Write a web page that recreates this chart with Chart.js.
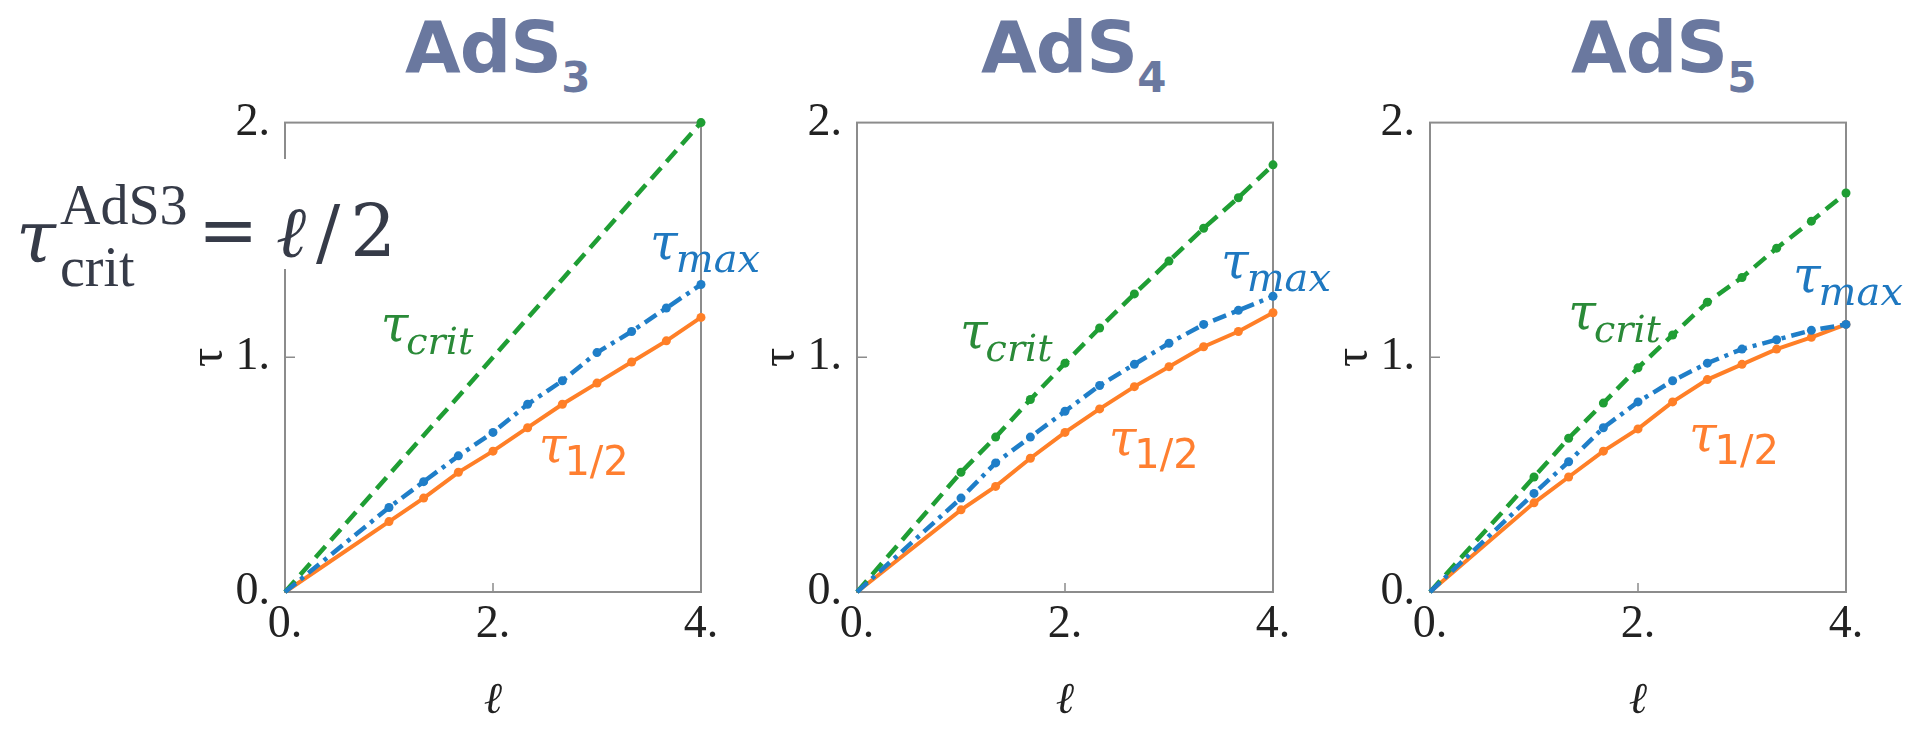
<!DOCTYPE html>
<html>
<head>
<meta charset="utf-8">
<script src="https://cdn.jsdelivr.net/npm/chart.js@4.4.1/dist/chart.umd.min.js"></script>
<style>
  html, body { margin: 0; padding: 0; background: #fff; }
  body { width: 1917px; height: 741px; position: relative; overflow: hidden; }
  canvas { position: absolute; top: 80px; }
  .ttl { position: absolute; top: 11px; font: bold 72px/72px "DejaVu Sans"; color: #6a789f; white-space: nowrap; letter-spacing: -1px; }
  .ttl sub { font-size: 42px; vertical-align: -20px; line-height: 0; }
  #formula { position: absolute; left: 0; top: 159px; width: 395px; height: 110px; background: #fff; z-index: 5; color: #363b48; font-family: "DejaVu Serif"; }
  #formula span { position: absolute; white-space: nowrap; }
  #formula .lib { font-family: "Liberation Serif"; }
</style>
</head>
<body>
<div class="ttl" style="left:405px">AdS<sub>3</sub></div>
<div class="ttl" style="left:981px">AdS<sub>4</sub></div>
<div class="ttl" style="left:1571px">AdS<sub>5</sub></div>

<canvas id="adS3" width="626" height="661" style="left:155px"></canvas>
<canvas id="adS4" width="626" height="661" style="left:727px"></canvas>
<canvas id="adS5" width="626" height="661" style="left:1300px"></canvas>

<div id="formula">
  <span style="left:16px; top:42px; font-size:72px; line-height:72px; font-style:italic">τ</span>
  <span class="lib" style="left:60px; top:18px; font-size:56px; line-height:56px">AdS3</span>
  <span class="lib" style="left:60px; top:80px; font-size:56px; line-height:56px">crit</span>
  <span style="left:198px; top:35px; font-size:72px; line-height:72px">=</span>
  <span style="left:276px; top:37px; font-size:72px; line-height:72px; letter-spacing:10px"><i>ℓ</i>/2</span>
</div>

<script>
// sample points along l (markers sit every 1/3 from l = 1)
var ell = [0, 1, 1.333, 1.667, 2, 2.333, 2.667, 3, 3.333, 3.667, 4];

// AdS3
var critAdS3 = [0, 0.5, 0.667, 0.833, 1, 1.167, 1.333, 1.5, 1.667, 1.833, 2];
var maxAdS3  = [0, 0.36, 0.47, 0.58, 0.68, 0.80, 0.90, 1.02, 1.11, 1.21, 1.31];
var halfAdS3 = [0, 0.30, 0.40, 0.51, 0.60, 0.70, 0.80, 0.89, 0.98, 1.07, 1.17];

// AdS4
var critAdS4 = [0, 0.51, 0.66, 0.82, 0.975, 1.125, 1.27, 1.41, 1.55, 1.68, 1.82];
var maxAdS4  = [0, 0.40, 0.55, 0.66, 0.77, 0.88, 0.97, 1.06, 1.14, 1.20, 1.26];
var halfAdS4 = [0, 0.35, 0.45, 0.57, 0.68, 0.78, 0.875, 0.96, 1.045, 1.11, 1.19];

// AdS5
var critAdS5 = [0, 0.49, 0.655, 0.805, 0.955, 1.095, 1.235, 1.34, 1.465, 1.58, 1.70];
var maxAdS5  = [0, 0.42, 0.555, 0.70, 0.81, 0.90, 0.975, 1.035, 1.075, 1.115, 1.14];
var halfAdS5 = [0, 0.38, 0.49, 0.60, 0.695, 0.81, 0.905, 0.97, 1.035, 1.085, 1.14];

var GREEN = '#1f9e34', BLUE = '#1f7ec8', ORANGE = '#ff7f27';

function pts(ys) {
    return ell.map(function (x, i) { return { x: x, y: ys[i] }; });
}
function radii(all) {
    return ell.map(function (x, i) {
        if (i === 0) return 0;
        if (!all && i < ell.length - 1) return 0;
        return 4.5;
    });
}

// curve captions, in data coordinates of each panel
var captionsAdS3 = { crit: [0.92, 1.07], max: [3.51, 1.42], half: [2.44, 0.555] };
var captionsAdS4 = { crit: [0.99, 1.04], max: [3.50, 1.34], half: [2.42, 0.585] };
var captionsAdS5 = { crit: [1.33, 1.12], max: [3.49, 1.28], half: [2.49, 0.60] };

var framePlugin = {
    id: 'frame',
    beforeDatasetsDraw: function (chart) {
        var a = chart.chartArea, ctx = chart.ctx;
        var px = chart.scales.x.getPixelForValue(2);
        var py = chart.scales.y.getPixelForValue(1);
        ctx.save();
        ctx.strokeStyle = '#8c8c8c';
        ctx.lineWidth = 2;
        ctx.strokeRect(a.left, a.top, a.right - a.left, a.bottom - a.top);
        ctx.lineWidth = 1.5;
        ctx.beginPath();
        ctx.moveTo(px, a.bottom); ctx.lineTo(px, a.bottom - 9);
        ctx.moveTo(a.left, py); ctx.lineTo(a.left + 10, py);
        ctx.stroke();
        ctx.restore();
    },
    afterDraw: function (chart) {
        var cap = chart.options.plugins.frame.captions;
        var ctx = chart.ctx;
        var items = [
            { at: cap.crit, sub: 'crit', color: '#2a8a38', subFont: 'italic 38px "DejaVu Serif"' },
            { at: cap.max, sub: 'max', color: '#1f78c0', subFont: 'italic 40px "DejaVu Serif"' },
            { at: cap.half, sub: '1/2', color: '#ff7f30', subFont: '40px "DejaVu Sans"' }
        ];
        ctx.save();
        ctx.textBaseline = 'alphabetic';
        items.forEach(function (it) {
            var x = chart.scales.x.getPixelForValue(it.at[0]);
            var y = chart.scales.y.getPixelForValue(it.at[1]);
            ctx.fillStyle = it.color;
            ctx.font = 'italic 50px "DejaVu Serif"';
            ctx.fillText('τ', x, y);
            var w = ctx.measureText('τ').width;
            ctx.font = it.subFont;
            ctx.fillText(it.sub, x + w - 2, y + 13);
        });
        ctx.restore();
    }
};

function makePanel(id, crit, max, half, captions, critDots) {
    var common = { fill: false, tension: 0, clip: false, pointBorderWidth: 0, pointStyle: 'circle' };
    var ds = [
        Object.assign({ data: pts(max), borderColor: BLUE, backgroundColor: BLUE, borderWidth: 4.5,
            borderDash: [14, 6, 4, 6], pointRadius: radii(true) }, common),
        Object.assign({ data: pts(crit), borderColor: GREEN, backgroundColor: GREEN, borderWidth: 4.5,
            borderDash: [15, 8], pointRadius: radii(critDots) }, common),
        Object.assign({ data: pts(half), borderColor: ORANGE, backgroundColor: ORANGE, borderWidth: 4,
            pointRadius: radii(true) }, common)
    ];
    var tickFont = { family: 'Liberation Serif', size: 46 };
    return new Chart(document.getElementById(id), {
        type: 'line',
        data: { datasets: ds },
        options: {
            responsive: false,
            animation: false,
            events: [],
            layout: { padding: { top: 37, right: 80, left: 0, bottom: 0 } },
            plugins: {
                legend: { display: false },
                tooltip: { enabled: false },
                frame: { captions: captions }
            },
            scales: {
                x: {
                    type: 'linear', min: 0, max: 4,
                    grid: { display: false, drawTicks: false },
                    border: { display: false },
                    ticks: { stepSize: 2, padding: 5, color: '#222', font: tickFont, maxRotation: 0,
                        callback: function (v) { return v + '.'; } },
                    title: { display: true, text: 'ℓ', color: '#222',
                        font: { family: 'DejaVu Serif', style: 'italic', size: 44, lineHeight: 1 },
                        padding: { top: 0, bottom: 17 } },
                    afterFit: function (s) { s.height = 149; }
                },
                y: {
                    type: 'linear', min: 0, max: 2,
                    grid: { display: false, drawTicks: false },
                    border: { display: false },
                    ticks: { stepSize: 1, padding: 15, color: '#222', font: tickFont,
                        callback: function (v) { return v + '.'; } },
                    title: { display: true, text: 'τ', color: '#222',
                        font: { family: 'Liberation Serif', size: 48, lineHeight: 1 },
                        padding: { top: 30, bottom: 0 } },
                    afterFit: function (s) { s.width = 130; }
                }
            }
        },
        plugins: [framePlugin]
    });
}

makePanel('adS3', critAdS3, maxAdS3, halfAdS3, captionsAdS3, false);
makePanel('adS4', critAdS4, maxAdS4, halfAdS4, captionsAdS4, true);
makePanel('adS5', critAdS5, maxAdS5, halfAdS5, captionsAdS5, true);
</script>
</body>
</html>
